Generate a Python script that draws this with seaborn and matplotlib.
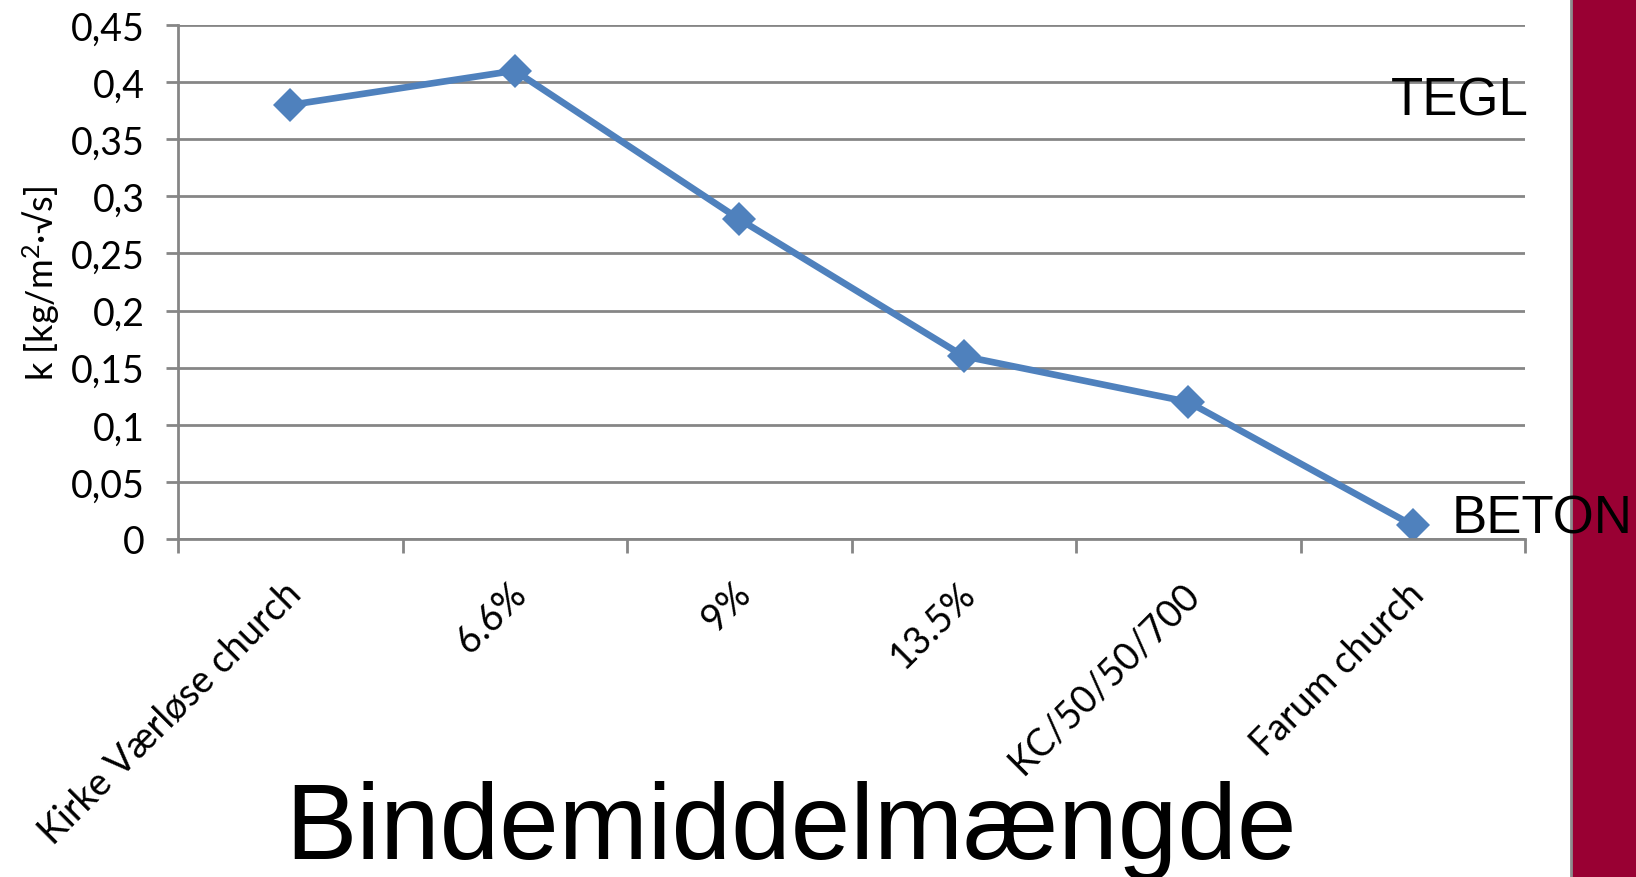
import matplotlib
matplotlib.use("Agg")
import matplotlib.pyplot as plt
from matplotlib.patches import Rectangle
from matplotlib.lines import Line2D
from matplotlib.transforms import ScaledTranslation
import seaborn as sns
import pandas as pd
import numpy as np

# Binder content samples and measured water absorption coefficient
categories = ["Kirke Værløse church", "6.6%", "9%", "13.5%", "KC/50/50/700", "Farum church"]
k_values = [0.38, 0.41, 0.28, 0.16, 0.12, 0.012]
y_ticks = [0, 0.05, 0.1, 0.15, 0.2, 0.25, 0.3, 0.35, 0.4, 0.45]
y_tick_labels = ["0", "0,05", "0,1", "0,15", "0,2", "0,25", "0,3", "0,35", "0,4", "0,45"]

sns.set_theme(style="white")
plt.rcParams["font.family"] = ["Lato", "DejaVu Sans"]
plt.rcParams["text.color"] = "black"
plt.rcParams["axes.labelcolor"] = "black"
plt.rcParams["xtick.color"] = "black"
plt.rcParams["ytick.color"] = "black"
plt.rcParams["mathtext.fontset"] = "custom"
plt.rcParams["mathtext.rm"] = "Lato"
plt.rcParams["mathtext.it"] = "Lato:italic"

W, H = 1636, 878
fig = plt.figure(figsize=(W / 100, H / 100), dpi=100)
ax = fig.add_axes([178 / W, 1 - 540 / H, (1525 - 178) / W, (540 - 26) / H])

df = pd.DataFrame({"sample": categories, "k": k_values})
df["pos"] = np.arange(len(categories))
sns.lineplot(data=df, x="pos", y="k", ax=ax, color="#4F81BD", linewidth=4.8,
             marker="D", markersize=17, markeredgewidth=0, sort=False)

grid_col = "#868686"
ax.set_xlim(-0.5, len(categories) - 0.5)
ax.set_ylim(0, 0.45)
ax.set_yticks(y_ticks)
ax.set_yticklabels(y_tick_labels, fontsize=27)
ax.yaxis.grid(True, color=grid_col, linewidth=2)
ax.set_axisbelow(True)
ax.tick_params(axis="y", which="major", length=9, width=2, color=grid_col, pad=15,
               left=True, labelcolor="black")

ax.set_xticks(np.arange(len(categories)))
ax.set_xticklabels(categories, rotation=45, ha="right", rotation_mode="anchor", fontsize=27)
ax.set_xticks(np.arange(-0.5, len(categories)), minor=True)
ax.tick_params(axis="x", which="major", length=0, pad=26, labelcolor="black")
ax.tick_params(axis="x", which="minor", length=10, width=2, color=grid_col, bottom=True)
shift = ScaledTranslation(-7 / 100, 0, fig.dpi_scale_trans)
for lbl in ax.get_xticklabels():
    lbl.set_transform(lbl.get_transform() + shift)

for side in ["top", "right"]:
    ax.spines[side].set_visible(False)
for side in ["left", "bottom"]:
    ax.spines[side].set_color(grid_col)
    ax.spines[side].set_linewidth(2)

ax.set_xlabel("")
ax.set_ylabel(r"k [kg/m$^{2}$·√s]", fontsize=26, labelpad=6, color="black")

fig.text(791 / W, 1 - 859 / H, "Bindemiddelmængde", fontsize=77,
         family="Liberation Sans", ha="center", va="baseline", color="black")

# Side band on the right edge
fig.add_artist(Rectangle((1571 / W, 0), 1 - 1571 / W, 1, transform=fig.transFigure,
                         facecolor="#990033", edgecolor="none", zorder=0))
fig.add_artist(Line2D([1571 / W, 1571 / W], [0, 1], transform=fig.transFigure,
                      color="#8c8c8c", linewidth=2, zorder=1))

fig.text(1529 / W, 1 - 115 / H, "TEGL", fontsize=38, family="Liberation Sans",
         ha="right", va="baseline", zorder=5, color="black")
fig.text(1452 / W, 1 - 533 / H, "BETON", fontsize=38, family="Liberation Sans",
         ha="left", va="baseline", zorder=5, color="black")

fig.savefig("out.png", dpi=100)
